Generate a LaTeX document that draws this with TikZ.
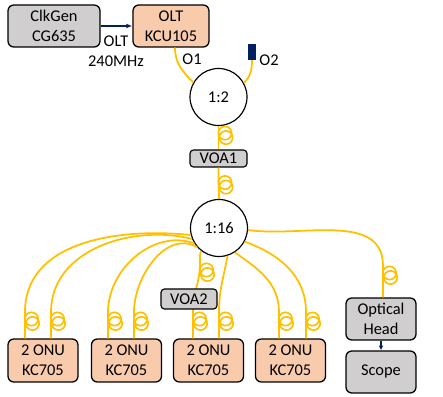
\documentclass[tikz,border=0pt]{standalone}
\usepackage{fontspec}
\setmainfont{Carlito}
\usetikzlibrary{arrows.meta}

\definecolor{fibre}{HTML}{FFC000}
\definecolor{navy}{HTML}{002060}
\definecolor{peach}{HTML}{F8CBAD}
\definecolor{boxgray}{HTML}{D0CECE}

\begin{document}
\begin{tikzpicture}[x=0.03cm,y=0.03cm,
	dev/.style={draw, line width=1.1pt, rounded corners=5pt, align=center, inner sep=0pt, font=\fontsize{14}{17}\selectfont},
	onu/.style={dev, fill=peach, minimum width=2.1cm, minimum height=1.29cm},
	grey/.style={dev, fill=boxgray, minimum width=2.1cm, minimum height=1.26cm},
	voa/.style={dev, line width=1pt, rounded corners=3pt, fill=boxgray, minimum width=1.71cm, minimum height=0.51cm},
	split/.style={circle, draw, line width=1pt, fill=white, minimum size=1.71cm, inner sep=0pt, font=\fontsize{14}{17}\selectfont},
	fib/.style={draw=fibre, line width=1.5pt},
	lbl/.style={align=center, inner sep=0pt, font=\fontsize{14}{17}\selectfont},
	coil/.pic={\draw[fibre, line width=1.4pt] (6.5,-7) circle[radius=0.2cm] (7.5,-11.5) circle[radius=0.2cm];}
	]
	\useasboundingbox (0,0) rectangle (443,397);
	
	% geraete oben
	\node[grey, minimum width=2.76cm] (clk) at (54,371) {ClkGen\\CG635};
	\node[onu, minimum width=2.28cm, minimum height=1.26cm] (olt) at (171,371) {OLT\\KCU105};
	\node[lbl] (clklbl) at (116,346) {OLT\\240MHz};
	\node[fill=navy, minimum width=0.24cm, minimum height=0.48cm, inner sep=0pt] (o2) at (252,345) {};
	\node[lbl] (o1lbl) at (192,338) {O1};
	\node[lbl] (o2lbl) at (269,337) {O2};
	
	% splitter
	\node[split] (s2) at (218.5,300) {1:2};
	\node[voa] (voa1) at (218.5,238.5) {VOA1};
	\node[split] (s16) at (219,169) {1:16};
	
	% geraete unten
	\node[onu] (onu1) at (43,36.5) {2 ONU\\KC705};
	\node[onu] (onu2) at (126.5,36.5) {2 ONU\\KC705};
	\node[onu] (onu3) at (208.5,36.5) {2 ONU\\KC705};
	\node[onu] (onu4) at (290.5,36.5) {2 ONU\\KC705};
	\node[grey] (head) at (381,78) {Optical\\Head};
	\node[grey] (scope) at (381,25) {Scope};
	
	% takt
	\draw[navy, line width=1.1pt, -{Latex[length=5pt,width=4pt]}] (clk) -- (olt);
	\draw[navy, line width=1.1pt, -{Latex[length=4pt,width=4pt]}] (head) -- (scope);
	
	% fasern oben
	\draw[fib] (olt.south -| 175,0) to[out=-90,in=135] (s2.150);
	\draw[fib] (o2.south) to[out=-90,in=45] (s2.29);
	\draw[fib] (s2.south) pic{coil} -- (voa1.north);
	\draw[fib] (voa1.south) -- ++(0,-8) pic{coil} -- (s16.north);
	
	% fasern unten
	\draw[fib] (s16.194) to[out=174,in=90] (25,85) pic{coil} -- (onu1.north -| 25,0);
	\draw[fib] (s16.202) to[out=166,in=90] (51,85) pic{coil} -- (onu1.north -| 51,0);
	\draw[fib] (s16.212) to[out=160,in=90] (108,85) pic{coil} -- (onu2.north -| 108,0);
	\draw[fib] (s16.221) to[out=150,in=90] (134,85) pic{coil} -- (onu2.north -| 134,0);
	\draw[fib] (s16.232) to[out=-110,in=90] (200,134) pic{coil} to[out=-90,in=90] (193,85) pic{coil} -- (onu3.north -| 193,0);
	\draw[fib] (s16.287) to[out=-100,in=90] (219,85) pic{coil} -- (onu3.north -| 219,0);
	\draw[fib] (s16.303) to[out=-35,in=90] (279,85) pic{coil} -- (onu4.north -| 279,0);
	\draw[fib] (s16.332) to[out=-20,in=90] (306,85) pic{coil} -- (onu4.north -| 306,0);
	\draw[fib] (s16.356) to[out=-8,in=90] (383,131) pic{coil} -- (head.north -| 383,0);
	
	% voa2 liegt auf der faser
	\node[voa, minimum width=1.68cm, minimum height=0.6cm] (voa2) at (189,98) {VOA2};
\end{tikzpicture}
\end{document}
